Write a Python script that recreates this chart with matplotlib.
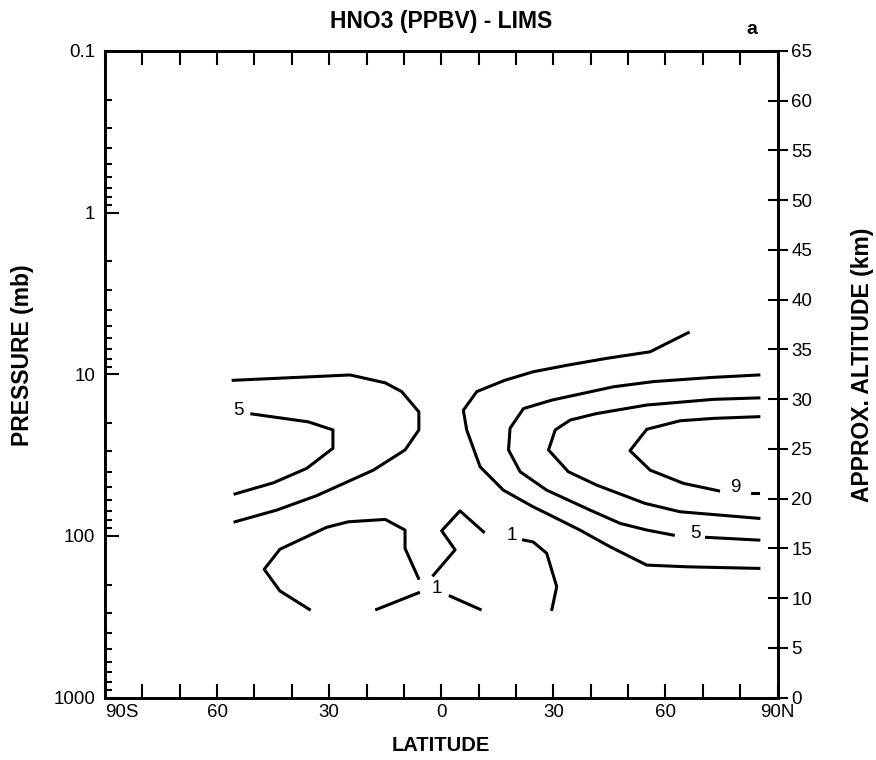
import matplotlib
matplotlib.use("Agg")
import matplotlib.pyplot as plt
from matplotlib.ticker import MultipleLocator, LogLocator, NullFormatter

plt.rcParams['font.family'] = ['Liberation Sans', 'DejaVu Sans']

# contour lines: latitude (deg, S negative) and pressure (mb)
south_outer_lat = [-55.7, -24.4, -15.0, -10.6, -6.0, -6.0, -9.7, -18.2, -33.3, -44.0, -55.2]
south_outer_p = [10.9, 10.1, 11.3, 12.8, 17.1, 22.1, 29.4, 39.2, 56.3, 69.2, 81.8]

south_inner_lat = [-50.7, -35.6, -29.0, -29.0, -36.0, -45.0, -55.2]
south_inner_p = [17.6, 19.7, 22.1, 28.7, 38.2, 47.0, 55.0]

south_low_lat = [-35.3, -43.2, -47.4, -43.2, -30.7, -24.9, -15.0, -9.7, -9.7, -6.1]
south_low_p = [285, 219, 161, 121, 88.5, 81.8, 79.1, 92.0, 119.5, 183]
south_tail_lat = [-6.1, -17.3]
south_tail_p = [225, 285]

center_lat = [-2.1, 3.7, 0.1, 5.0, 11.3]
center_p = [175, 122, 93, 70, 94.4]
center_tail_lat = [2.4, 10.4]
center_tail_p = [236, 285]

north_low_lat = [22.0, 24.6, 28.2, 30.9, 29.6]
north_low_p = [106, 109, 128, 206, 285]

north_outer_lat = [85.0, 65.7, 55.0, 45.2, 37.1, 28.2, 24.6, 16.6, 10.4, 6.8, 5.9,
                   9.5, 17.0, 24.6, 33.6, 44.3, 55.9, 66.1]
north_outer_p = [158.9, 155.3, 151.6, 116.8, 92.0, 72.6, 66.1, 52.1, 37.4, 22.1, 16.7,
                 12.8, 10.9, 9.65, 8.8, 7.97, 7.26, 5.53]

north_5_lat = [85.0, 72.8, 56.8, 46.1, 29.6, 22.0, 18.4, 18.0, 21.1, 28.2, 39.8, 47.9, 55.0, 62.1]
north_5_p = [10.1, 10.45, 11.1, 11.95, 14.45, 16.3, 21.6, 29.4, 40.1, 52.1, 69.2, 83.7, 92.0, 98.9]
north_5_tail_lat = [71.0, 85.0]
north_5_tail_p = [102.1, 106.2]

north_7_lat = [85.0, 72.8, 55.0, 41.6, 34.5, 30.5, 28.7, 34.0, 41.6, 54.5, 63.9, 85.0]
north_7_p = [14.0, 14.3, 15.5, 17.5, 19.2, 22.1, 29.4, 40.1, 48.5, 62.9, 70.9, 77.9]

north_9_lat = [85.0, 72.8, 63.9, 55.0, 50.5, 55.9, 64.8, 74.2]
north_9_p = [18.3, 18.75, 19.4, 21.9, 29.7, 39.2, 47.3, 52.6]
north_9_tail_lat = [83.1, 84.9]
north_9_tail_p = [54.1, 54.1]

# contour value labels
label_text = ['5', '1', '1', '5', '9']
label_lat = [-54.4, -1.2, 18.9, 67.9, 78.6]
label_p = [16.7, 211, 99, 96.6, 50.1]

lat_ticks = [-90, -60, -30, 0, 30, 60, 90]
lat_tick_labels = ['90S', '60', '30', '0', '30', '60', '90N']
p_ticks = [0.1, 1, 10, 100, 1000]
p_tick_labels = ['0.1', '1', '10', '100', '1000']
alt_ticks = list(range(0, 66, 5))

lines = [
    (south_outer_lat, south_outer_p),
    (south_inner_lat, south_inner_p),
    (south_low_lat, south_low_p),
    (south_tail_lat, south_tail_p),
    (center_lat, center_p),
    (center_tail_lat, center_tail_p),
    (north_low_lat, north_low_p),
    (north_outer_lat, north_outer_p),
    (north_5_lat, north_5_p),
    (north_5_tail_lat, north_5_tail_p),
    (north_7_lat, north_7_p),
    (north_9_lat, north_9_p),
    (north_9_tail_lat, north_9_tail_p),
]

fig = plt.figure(figsize=(8.76, 7.6), dpi=100)
ax = fig.add_axes([0.1199, 0.0822, 0.7677, 0.8507])

for lat, p in lines:
    ax.plot(lat, p, color='black', lw=2.2)

for txt, lat, p in zip(label_text, label_lat, label_p):
    ax.text(lat, p, txt, ha='center', va='center', fontsize=13.5)

ax.set_yscale('log')
ax.set_xlim(-90, 90)
ax.set_ylim(1000, 0.1)

ax.set_xticks(lat_ticks, labels=lat_tick_labels)
ax.xaxis.set_minor_locator(MultipleLocator(10))
ax.get_xticklabels()[0].set_horizontalalignment('left')
ax.set_yticks(p_ticks, labels=p_tick_labels)
ax.yaxis.set_minor_locator(LogLocator(subs=range(2, 10)))
ax.yaxis.set_minor_formatter(NullFormatter())

ax.tick_params(axis='x', which='both', direction='in', length=10, width=1.5,
               top=True, labelsize=13.5, pad=5)
ax.tick_params(axis='y', which='major', direction='in', length=10, width=1.5,
               right=True, labelsize=13.5, pad=7)
ax.tick_params(axis='y', which='minor', direction='in', length=5, width=1.5, right=True)
for s in ax.spines.values():
    s.set_linewidth(2)

ax2 = ax.twinx()
ax2.set_ylim(0, 65)
ax2.set_yticks(alt_ticks)
ax2.tick_params(axis='y', direction='inout', length=14, width=1.5, labelsize=13.5, pad=3)
for s in ax2.spines.values():
    s.set_linewidth(2)

ax.text(0.5, 1.045, 'HNO3 (PPBV) - LIMS', transform=ax.transAxes, ha='center',
        va='center', fontsize=16.5, fontweight='bold')
ax.text(0.962, 1.033, 'a', transform=ax.transAxes, ha='center', va='center',
        fontsize=14, fontweight='bold')
ax.text(-0.123, 0.53, 'PRESSURE (mb)', transform=ax.transAxes, rotation=90,
        ha='center', va='center', fontsize=16.5, fontweight='bold')
ax.text(0.5, -0.0735, 'LATITUDE', transform=ax.transAxes, ha='center', va='center',
        fontsize=14.5, fontweight='bold')
ax.text(1.1257, 0.514, 'APPROX. ALTITUDE (km)', transform=ax.transAxes, rotation=90,
        ha='center', va='center', fontsize=16.5, fontweight='bold')

fig.savefig('out.png', dpi=100)
